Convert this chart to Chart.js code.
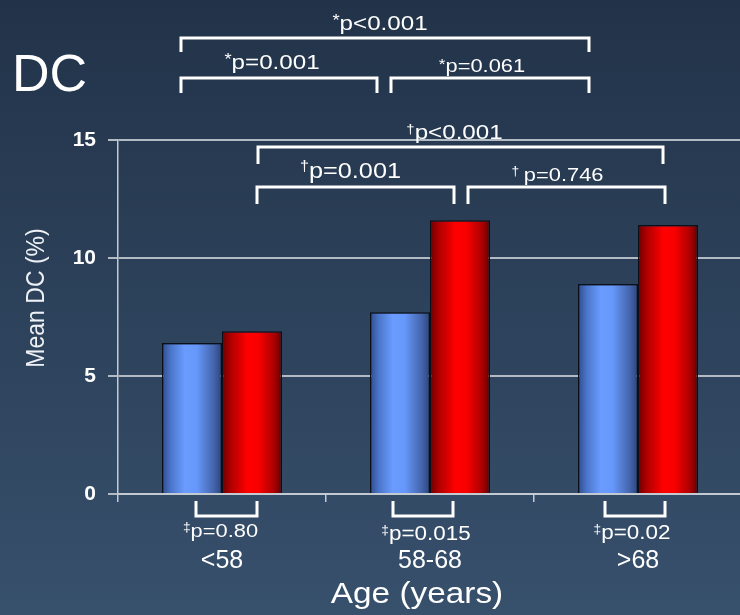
<!DOCTYPE html>
<html>
<head>
<meta charset="utf-8">
<script src="https://cdn.jsdelivr.net/npm/chart.js@4/dist/chart.umd.min.js"></script>
<style>
  html, body { margin: 0; padding: 0; overflow: hidden; background: #2b3f58; }
  #wrap { width: 742px; height: 615px; }
</style>
</head>
<body>
<div id="wrap"><canvas id="chart" width="742" height="615"></canvas></div>
<script>
// Mean DC (%) by age band, two groups per band
const categories = ['<58', '58-68', '>68'];
const seriesA = [6.4, 7.7, 8.9];
const seriesB = [6.9, 11.6, 11.4];
const yTicks = [0, 5, 10, 15];

// Pairwise comparisons across age bands (index pairs) and their p-values
const comparePairs = [[0, 1], [1, 2], [0, 2]];
const seriesAPValues = ['p=0.001', 'p=0.061', 'p<0.001'];
const seriesBPValues = ['p=0.001', 'p=0.746', 'p<0.001'];
// Within-band comparison of the two groups
const withinPValues = ['p=0.80', 'p=0.015', 'p=0.02'];

const FONT = '"Liberation Sans", Arial, sans-serif';
const SX = 1.15; // slight horizontal widening of annotation text

const shadeA = [[0, '#2e4c8a'], [0.14, '#4a74c8'], [0.38, '#6a9cff'], [0.58, '#6697fa'], [0.86, '#4565ad'], [1, '#2c4478']];
const shadeB = [[0, '#6c0000'], [0.14, '#ad0000'], [0.42, '#ff0000'], [0.6, '#fa0000'], [0.86, '#ae0000'], [1, '#640000']];
const shades = [shadeA, shadeB];

// Bracket layout: bracket rows (px), end nudges and label placement
const bracketLayout = {
  A: [
    { top: 78, leg: 93, dx: [-11, -23], size: 21, base: 69, lx: -7 },
    { top: 78, leg: 93, dx: [-9, -19], size: 19, base: 72, lx: -8 },
    { top: 38, leg: 52, dx: [-11, -19], size: 21, base: 30, lx: -5 }
  ],
  B: [
    { top: 187, leg: 204, dx: [5, -6], size: 22, base: 178, lx: -5 },
    { top: 187, leg: 204, dx: [8, -3], size: 19, base: 181, lx: -9, gap: 4 },
    { top: 147, leg: 164, dx: [6, -5], size: 21, base: 139, lx: -6 }
  ],
  within: [
    { top: 516, leg: 501, dx: [4, 5], size: 19, base: 537, lx: -6 },
    { top: 516, leg: 501, dx: [-7, -7], size: 19.5, base: 540, lx: 3 },
    { top: 516, leg: 501, dx: [-3, -3], size: 19.5, base: 539, lx: -3 }
  ]
};

function drawSig(ctx, sym, text, cx, baseline, size, gap) {
  ctx.save();
  ctx.translate(cx, baseline);
  ctx.scale(SX, 1);
  const symSize = Math.round(size * (sym === '*' ? 0.78 : 0.62));
  ctx.font = symSize + 'px ' + FONT;
  const ws = ctx.measureText(sym).width + (gap || 0);
  ctx.font = size + 'px ' + FONT;
  const wt = ctx.measureText(text).width;
  const x0 = -(ws + wt) / 2;
  ctx.fillStyle = '#ffffff';
  ctx.textAlign = 'left';
  ctx.textBaseline = 'alphabetic';
  ctx.font = symSize + 'px ' + FONT;
  ctx.fillText(sym, x0, sym === '*' ? -size * 0.18 : -size * 0.3);
  ctx.font = size + 'px ' + FONT;
  ctx.fillText(text, x0 + ws, 0);
  ctx.restore();
}

function drawBracket(ctx, x1, x2, yBar, yLeg) {
  ctx.beginPath();
  ctx.moveTo(x1, yLeg);
  ctx.lineTo(x1, yBar);
  ctx.lineTo(x2, yBar);
  ctx.lineTo(x2, yLeg);
  ctx.stroke();
}

const backdrop = {
  id: 'backdrop',
  beforeDraw(chart) {
    const { ctx, width, height } = chart;
    const g = ctx.createLinearGradient(0, 0, 0, height);
    g.addColorStop(0, '#223349');
    g.addColorStop(1, '#37506c');
    ctx.save();
    ctx.fillStyle = g;
    ctx.fillRect(0, 0, width, height);
    ctx.restore();
  }
};

const barShading = {
  id: 'barShading',
  beforeDatasetsDraw(chart) {
    const ctx = chart.ctx;
    chart.data.datasets.forEach((ds, di) => {
      chart.getDatasetMeta(di).data.forEach(bar => {
        const { x, width } = bar.getProps(['x', 'width'], true);
        const g = ctx.createLinearGradient(x - width / 2, 0, x + width / 2, 0);
        shades[di].forEach(([o, c]) => g.addColorStop(o, c));
        bar.options.backgroundColor = g;
      });
    });
  }
};

const annotations = {
  id: 'annotations',
  afterDraw(chart) {
    const ctx = chart.ctx;
    const cx = (di, i) => chart.getDatasetMeta(di).data[i].x;
    ctx.save();
    ctx.strokeStyle = '#ffffff';
    ctx.lineWidth = 3;
    ctx.lineJoin = 'miter';
    ctx.lineCap = 'butt';

    // comparisons across age bands within each group
    [['A', 0, '*', seriesAPValues], ['B', 1, '\u2020', seriesBPValues]].forEach(([key, di, sym, pv]) => {
      comparePairs.forEach(([a, b], k) => {
        const L = bracketLayout[key][k];
        const x1 = cx(di, a) + L.dx[0];
        const x2 = cx(di, b) + L.dx[1];
        drawBracket(ctx, x1, x2, L.top, L.leg);
        drawSig(ctx, sym, pv[k], (x1 + x2) / 2 + L.lx, L.base, L.size, L.gap);
      });
    });

    // comparison between the two groups inside each age band
    categories.forEach((c, i) => {
      const L = bracketLayout.within[i];
      const x1 = cx(0, i) + L.dx[0];
      const x2 = cx(1, i) + L.dx[1];
      drawBracket(ctx, x1, x2, L.top, L.leg);
      drawSig(ctx, '\u2021', withinPValues[i], (x1 + x2) / 2 + L.lx, L.base, L.size);
    });

    // panel label
    ctx.fillStyle = '#ffffff';
    ctx.textAlign = 'left';
    ctx.textBaseline = 'alphabetic';
    ctx.font = '52px ' + FONT;
    ctx.fillText('DC', 12, 91);

    // axis titles
    ctx.save();
    ctx.translate(417, 603);
    ctx.scale(SX, 1);
    ctx.textAlign = 'center';
    ctx.font = '29px ' + FONT;
    ctx.fillText('Age (years)', 0, 0);
    ctx.restore();

    ctx.save();
    ctx.translate(37, 298);
    ctx.scale(SX, 1);
    ctx.rotate(-Math.PI / 2);
    ctx.textAlign = 'center';
    ctx.textBaseline = 'middle';
    ctx.font = '23px ' + FONT;
    ctx.fillStyle = '#eef1f5';
    ctx.fillText('Mean DC (%)', 0, 0);
    ctx.restore();

    ctx.restore();
  }
};

new Chart(document.getElementById('chart'), {
  type: 'bar',
  data: {
    labels: categories,
    datasets: [
      { label: 'Group 1', data: seriesA, backgroundColor: () => '#6699ff', borderColor: '#0b0f1a', borderWidth: 1.5 },
      { label: 'Group 2', data: seriesB, backgroundColor: () => '#ff0000', borderColor: '#0b0f1a', borderWidth: 1.5 }
    ]
  },
  options: {
    responsive: false,
    animation: false,
    events: [],
    layout: { padding: { top: 140, right: 0, left: 0, bottom: 0 } },
    datasets: { bar: { barPercentage: 1.0, categoryPercentage: 0.577 } },
    plugins: { legend: { display: false }, tooltip: { enabled: false }, title: { display: false } },
    scales: {
      x: {
        afterFit(scale) { scale.height = 121; },
        grid: { display: true, drawOnChartArea: false, drawTicks: true, tickLength: 8, color: '#c3cad2', lineWidth: 1.5, offset: true },
        border: { display: true, color: '#c3cad2', width: 2 },
        ticks: { color: '#ffffff', padding: 44, font: { family: FONT, size: 25, lineHeight: 1.2 } }
      },
      y: {
        min: 0,
        max: 15,
        afterFit(scale) { scale.width = 118; },
        afterBuildTicks(scale) { scale.ticks = yTicks.map(v => ({ value: v })); },
        grid: { color: '#b2bac3', lineWidth: 2, drawTicks: true, tickLength: 10 },
        border: { display: true, color: '#c3cad2', width: 1.5 },
        ticks: { color: '#ffffff', padding: 12, font: { family: FONT, size: 21, weight: 'bold' } }
      }
    }
  },
  plugins: [backdrop, barShading, annotations]
});
</script>
</body>
</html>
